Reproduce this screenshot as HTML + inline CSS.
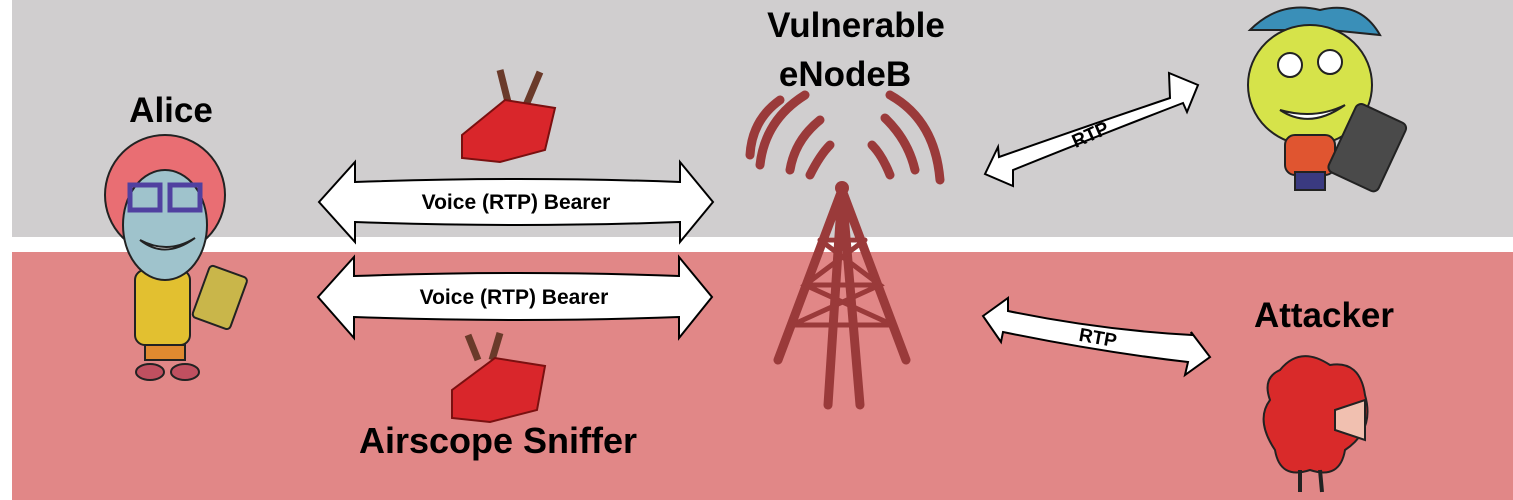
<!DOCTYPE html>
<html><head><meta charset="utf-8"><style>
html,body{margin:0;padding:0;background:#fff}
svg{display:block}
text{font-family:"Liberation Sans",sans-serif;font-weight:bold}
</style></head><body>
<svg width="1513" height="500" viewBox="0 0 1513 500">
<rect x="12" y="0" width="1501" height="237" fill="#d0cecf"/>
<rect x="12" y="252" width="1501" height="248" fill="#e18787"/>

<g fill="#fff" stroke="#000" stroke-width="2">
<path d="M319,202 L355,162 L355,182 Q520,176 680,182 L680,162 L713,202 L680,242 L680,222 Q520,228 355,222 L355,242 Z"/>
<path d="M318,297 L354,257 L354,276 Q520,270 679,276 L679,257 L712,297 L679,338 L679,317 Q520,323 354,317 L354,338 Z"/>
<path d="M985,174 L998,147 L999,157 Q1090,125 1170,98 L1169,73 L1198,85 L1187,112 L1183,103 Q1100,135 1013,170 L1013,186 Z"/>
<path d="M983,316 L1008,298 L1008,311 Q1100,330 1192,335 L1191,332 L1210,357 L1185,375 L1188,362 Q1100,352 1003,332 L1001,342 Z"/>
</g>
<text x="516" y="209" font-size="21" text-anchor="middle">Voice (RTP) Bearer</text>
<text x="514" y="304" font-size="21" text-anchor="middle">Voice (RTP) Bearer</text>
<text x="1090" y="141" font-size="19" text-anchor="middle" transform="rotate(-24 1090 134)">RTP</text>
<text x="1098" y="344" font-size="19" text-anchor="middle" transform="rotate(10 1098 337)">RTP</text>

<text x="856" y="37" font-size="35" text-anchor="middle">Vulnerable</text>
<text x="845" y="86" font-size="35" text-anchor="middle">eNodeB</text>
<text x="171" y="122" font-size="35" text-anchor="middle">Alice</text>
<text x="498" y="453" font-size="36" text-anchor="middle">Airscope Sniffer</text>
<text x="1324" y="327" font-size="35" text-anchor="middle">Attacker</text>

<g stroke="#9a3a3a" fill="none" stroke-width="9" stroke-linecap="round">
<path d="M842,190 L778,360 M842,190 L906,360 M842,190 L828,405 M842,190 L860,405"/>
<path stroke-width="5" d="M820,240 L865,240 M805,285 L880,285 M792,325 L893,325 M820,240 L880,285 L792,325 M865,240 L805,285 L893,325"/>
<path d="M810,175 Q820,155 830,145 M872,145 Q882,155 890,175 M790,170 Q795,140 820,120 M885,118 Q908,140 915,170 M760,165 Q765,120 805,95 M890,95 Q935,120 940,180 M750,155 Q752,120 780,100"/>
<circle cx="842" cy="188" r="7" fill="#9a3a3a" stroke="none"/>
</g>

<g>
<path d="M510,110 L500,70 M524,110 L540,72" stroke="#6a3a2a" stroke-width="7"/>
<path d="M462,135 L505,100 L555,108 L545,150 L500,162 L462,158 Z" fill="#d9262b" stroke="#7a1010" stroke-width="2"/>
<path d="M478,360 L468,335 M492,360 L500,333" stroke="#6a3a2a" stroke-width="7"/>
<path d="M452,390 L495,358 L545,366 L537,410 L490,422 L452,418 Z" fill="#d9262b" stroke="#7a1010" stroke-width="2"/>
</g>

<g stroke="#222" stroke-width="2">
<circle cx="165" cy="195" r="60" fill="#e96e73"/>
<rect x="135" y="270" width="55" height="75" rx="10" fill="#e2c030"/>
<ellipse cx="165" cy="225" rx="42" ry="55" fill="#9fc3cc"/>
<rect x="130" y="185" width="30" height="25" fill="none" stroke="#5040a0" stroke-width="5"/>
<rect x="170" y="185" width="30" height="25" fill="none" stroke="#5040a0" stroke-width="5"/>
<path d="M140,240 Q165,260 195,238 Q168,255 140,240Z" fill="#fff"/>
<rect x="200" y="270" width="40" height="55" rx="4" fill="#c9b64a" transform="rotate(20 220 297)"/>
<rect x="145" y="345" width="40" height="15" fill="#e08a30"/>
<ellipse cx="150" cy="372" rx="14" ry="8" fill="#c05060"/>
<ellipse cx="185" cy="372" rx="14" ry="8" fill="#c05060"/>
</g>

<g stroke="#222" stroke-width="2">
<path d="M1250,30 Q1280,0 1320,10 Q1360,0 1380,35 L1330,30 Z" fill="#3a8fb8"/>
<ellipse cx="1310" cy="85" rx="62" ry="60" fill="#d6e34a"/>
<circle cx="1290" cy="65" r="12" fill="#fff"/><circle cx="1330" cy="62" r="12" fill="#fff"/>
<path d="M1280,110 Q1310,130 1345,105 Q1315,120 1280,110Z" fill="#fff"/>
<rect x="1285" y="135" width="50" height="40" rx="10" fill="#e05530"/>
<rect x="1340" y="110" width="55" height="75" rx="6" fill="#4a4a4a" transform="rotate(25 1367 147)"/>
<rect x="1295" y="172" width="30" height="18" fill="#3a3a80"/>
</g>

<g stroke="#222" stroke-width="2">
<path d="M1280,370 Q1300,345 1330,365 Q1360,360 1365,395 Q1375,430 1345,450 Q1340,480 1310,470 Q1280,480 1275,450 Q1255,420 1270,400 Q1262,378 1280,370Z" fill="#d92a2a"/>
<path d="M1335,410 L1365,400 L1365,440 L1335,430 Z" fill="#f1c0b0"/>
<path d="M1300,470 L1300,492 M1320,470 L1322,492" stroke-width="4"/>
</g>
</svg>
</body></html>
